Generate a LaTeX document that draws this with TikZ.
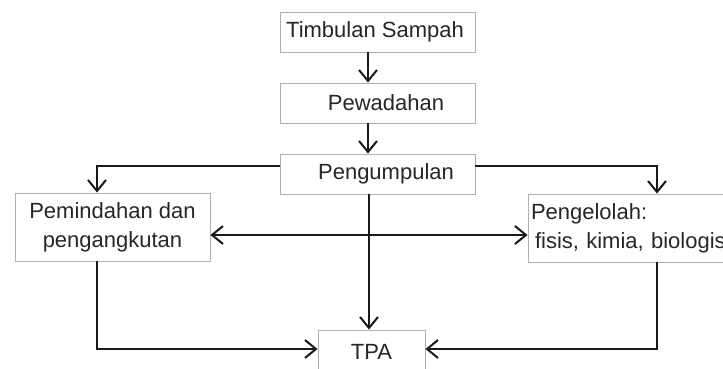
\documentclass[tikz,border=0pt]{standalone}
\usepackage{fontspec}
\setmainfont{Liberation Sans}
\usetikzlibrary{arrows.meta,calc}
\definecolor{boxgray}{RGB}{175,175,175}
\tikzset{
  box/.style={draw=boxgray, line width=0.9pt, rectangle, inner sep=0pt, align=center,
    font=\fontsize{22}{29}\selectfont, text=black!85},
  arr/.style={line width=2pt, black!90, -{Straight Barb[length=11pt,width=18pt,line width=2pt]}},
  darr/.style={line width=2pt, black!90, {Straight Barb[length=11pt,width=18pt,line width=2pt]}-{Straight Barb[length=11pt,width=18pt,line width=2pt]}}
}
\begin{document}
\begin{tikzpicture}[x=1pt,y=-1pt]
\useasboundingbox (0,0) rectangle (723,369);
\clip (0,0) rectangle (723,369);
\node[box, minimum width=195pt, minimum height=40pt] (ts) at (377.5,32) {\hspace*{-5pt}Timbulan Sampah};
\node[box, minimum width=195pt, minimum height=40pt] (pw) at (377.5,103) {\hspace*{17pt}Pewadahan};
\node[box, minimum width=195pt, minimum height=40pt] (pg) at (377.5,174) {\hspace*{17pt}Pengumpulan};
\node[box, minimum width=195pt, minimum height=68pt] (pm) at (112.5,227) {Pemindahan dan\\pengangkutan};
\node[box, minimum width=230pt, minimum height=68pt, text width=226pt, align=left] (pe) at (643,228) {\hspace*{1pt}Pengelolah:\\\hspace*{5pt}fisis, kimia, biologis};
\node[box, minimum width=107pt, minimum height=44pt] (tpa) at (371.5,352) {TPA};
\coordinate (ax) at (368,0);
\coordinate (L) at (97,166);
\coordinate (R) at (657,166);
\coordinate (D) at (0,235);
\coordinate (V) at (369,0);
\draw[arr] (ts.south -| ax) -- (pw.north -| ax);
\draw[arr] (pw.south -| ax) -- (pg.north -| ax);
\draw[arr] (pg.west |- L) -- (L) -- (pm.north -| L);
\draw[arr] (pg.east |- R) -- (R) -- (pe.north -| R);
\draw[arr] (pg.south -| V) -- (tpa.north -| V);
\draw[darr] (pm.east |- D) -- (pe.west |- D);
\draw[arr] (pm.south -| L) |- ($(tpa.west)+(0,-3)$);
\draw[arr] (pe.south -| R) |- ($(tpa.east)+(0,-3)$);
\end{tikzpicture}
\end{document}
